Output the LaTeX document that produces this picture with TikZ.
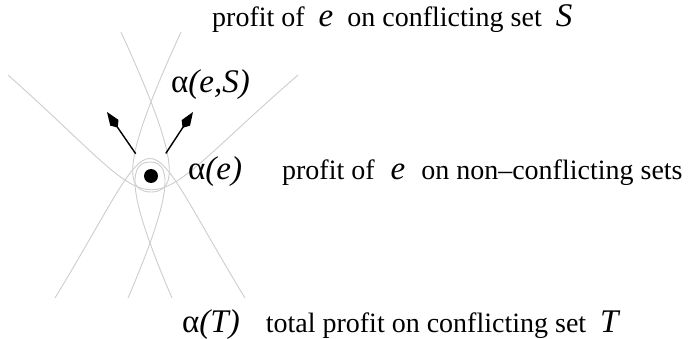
\documentclass[tikz,border=0pt]{standalone}
\usepackage{fontspec}
\setmainfont{Liberation Serif}
\usetikzlibrary{arrows.meta,positioning}
\definecolor{setgray}{RGB}{205,205,205}
\newcommand{\symtxt}[1]{{\fontsize{33}{36}\selectfont#1}}

\begin{document}
\begin{tikzpicture}[x=1pt,y=-1pt,font=\fontsize{28}{32}\selectfont]
\tikzset{setline/.style={setgray,line width=0.9pt},
  push/.style={-{Kite[length=19pt,width=10pt,inset=6pt]},line width=1.4pt},
  lbl/.style={anchor=base west,inner sep=0pt}}
\useasboundingbox (0,0) rectangle (691,339);
% conflicting sets that contain e
\draw[setline] (8,75) .. controls (180,228) and (122,228) .. (298,75);
\draw[setline] (55,298) .. controls (168,112) and (132,112) .. (245,298);
\draw[setline] (121,32) .. controls (168,135) and (186,192) .. (151,192)
  .. controls (116,192) and (134,135) .. (181,32);
\draw[setline] (128,298) .. controls (168,205) and (176,162) .. (150,162)
  .. controls (124,162) and (132,205) .. (172,298);
\node[circle,fill,inner sep=0pt,minimum size=14pt] (e) at (151,176) {};
\coordinate (tipL) at (107,112);
\coordinate (tipR) at (193,112);
\draw[push,shorten <=27pt] (e.center) -- (tipL);
\draw[push,shorten <=27pt] (e.center) -- (tipR);
% labels
\node[lbl] (pS) at (212,27) {profit of\ \ \symtxt{\textit{e}}\ \ on conflicting set\ \ \symtxt{\textit{S}}};
\node[lbl] (aeS) at (171,93) {\symtxt{α\textit{(e,S)}}};
\node[lbl] (ae) at (188,180) {\symtxt{α\textit{(e)}}\hspace{40pt}profit of\hspace{16pt}\symtxt{\textit{e}}\hspace{16pt}on non--conflicting sets};
\node[lbl] (aT) at (182,332) {\symtxt{α\textit{(T)}}\hspace{26pt}total profit on conflicting set\ \ \symtxt{\textit{T}}};
\end{tikzpicture}
\end{document}
